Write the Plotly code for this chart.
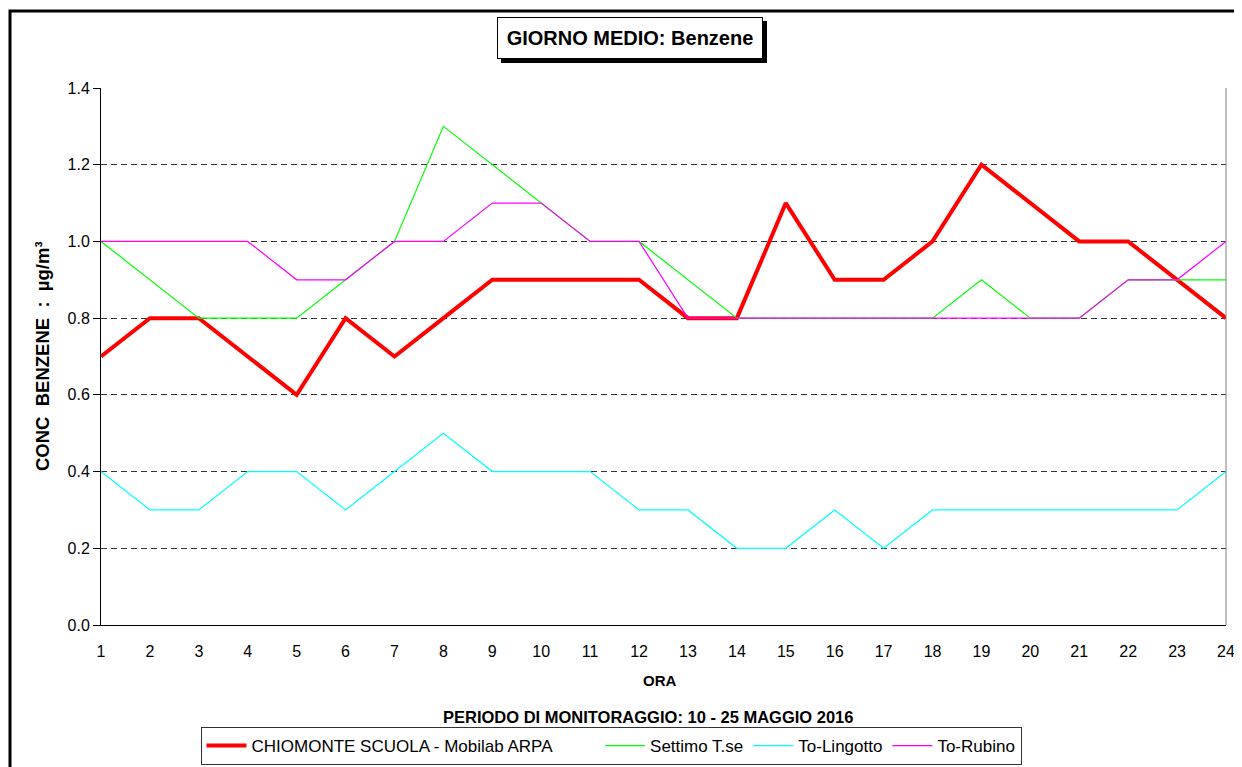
import plotly.graph_objects as go

hours = list(range(1, 25))
chiomonte = [0.7, 0.8, 0.8, 0.7, 0.6, 0.8, 0.7, 0.8, 0.9, 0.9, 0.9, 0.9,
             0.8, 0.8, 1.1, 0.9, 0.9, 1.0, 1.2, 1.1, 1.0, 1.0, 0.9, 0.8]
settimo = [1.0, 0.9, 0.8, 0.8, 0.8, 0.9, 1.0, 1.3, 1.2, 1.1, 1.0, 1.0,
           0.9, 0.8, 0.8, 0.8, 0.8, 0.8, 0.9, 0.8, 0.8, 0.9, 0.9, 0.9]
lingotto = [0.4, 0.3, 0.3, 0.4, 0.4, 0.3, 0.4, 0.5, 0.4, 0.4, 0.4, 0.3,
            0.3, 0.2, 0.2, 0.3, 0.2, 0.3, 0.3, 0.3, 0.3, 0.3, 0.3, 0.4]
rubino = [1.0, 1.0, 1.0, 1.0, 0.9, 0.9, 1.0, 1.0, 1.1, 1.1, 1.0, 1.0,
          0.8, 0.8, 0.8, 0.8, 0.8, 0.8, 0.8, 0.8, 0.8, 0.9, 0.9, 1.0]
series_names = ["CHIOMONTE SCUOLA - Mobilab ARPA", "Settimo T.se", "To-Lingotto", "To-Rubino"]
y_ticks = [0.0, 0.2, 0.4, 0.6, 0.8, 1.0, 1.2, 1.4]

# page body has an 8px margin: work in screen pixels and convert
OFF = 8
W, H = 1242 - OFF, 767 - OFF
PLOT_L, PLOT_R, PLOT_T, PLOT_B = 101, 1226, 88, 625   # screen px
L = PLOT_L - OFF
T = PLOT_T - OFF
R = W - (PLOT_R - OFF)
B = H - (PLOT_B - OFF)
PW, PH = PLOT_R - PLOT_L, PLOT_B - PLOT_T


def px(x):
    return (x - PLOT_L) / PW


def py(y):
    return (PLOT_B - y) / PH


FONT = "Liberation Sans, Arial, sans-serif"
NB = "\u00a0"
pads = [9, 0, 0, 0]

fig = go.Figure()
styles = [("#FF0000", 4), ("#00FF00", 1.2), ("#00FFFF", 1.2), ("#FF00FF", 1.2)]
for name, ys, (col, lw), pad in zip(series_names, [chiomonte, settimo, lingotto, rubino],
                                    styles, pads):
    fig.add_trace(go.Scatter(x=hours, y=ys, mode="lines", name=name + NB * pad,
                             line=dict(color=col, width=lw)))

fig.update_layout(
    width=W, height=H,
    margin=dict(l=L, r=R, t=T, b=B, autoexpand=False),
    paper_bgcolor="white", plot_bgcolor="white",
    font=dict(family=FONT, size=16, color="black"),
    showlegend=True,
    legend=dict(orientation="h", x=px(611), y=py(765), xanchor="center", yanchor="bottom",
                bordercolor="#333", borderwidth=1, bgcolor="white",
                font=dict(family=FONT, size=17), itemwidth=40,
                tracegroupgap=0),
    xaxis=dict(range=[1, 24], tickvals=hours, ticktext=[str(h) for h in hours],
               showgrid=False, zeroline=False, showline=True, linecolor="black",
               linewidth=1, ticks="", ticklabelstandoff=12, automargin=False,
               tickfont=dict(family=FONT, size=16)),
    yaxis=dict(range=[0, 1.4], tickvals=y_ticks, ticktext=[f"{v:.1f}" for v in y_ticks],
               showgrid=True, gridcolor="#333", gridwidth=1, griddash="6px,4px",
               zeroline=False, showline=True, linecolor="black", linewidth=1,
               ticks="outside", ticklen=7, tickcolor="black", automargin=False,
               tickfont=dict(family=FONT, size=16)),
)

# right border of plot area (gray)
fig.add_shape(type="line", xref="paper", yref="paper", x0=1, x1=1, y0=0, y1=1,
              line=dict(color="#808080", width=1))
# outer chart frame
fig.add_shape(type="rect", xref="paper", yref="paper",
              x0=px(10), x1=px(1300), y0=py(820), y1=py(11),
              line=dict(color="black", width=3))
# title shadow
fig.add_shape(type="rect", xref="paper", yref="paper",
              x0=px(501), x1=px(767), y0=py(63), y1=py(21),
              fillcolor="black", line=dict(color="black", width=0))

fig.add_annotation(text="<b>GIORNO MEDIO: Benzene</b>", xref="paper", yref="paper",
                   x=px(630), y=py(38), xanchor="center", yanchor="middle",
                   showarrow=False, bgcolor="white", bordercolor="black", borderwidth=1,
                   borderpad=0, width=264, height=40,
                   font=dict(family=FONT, size=20, color="black"))
fig.add_annotation(text="<b>CONC  BENZENE  :  µg/m³</b>", xref="paper", yref="paper",
                   x=px(42), y=py(356), textangle=-90, showarrow=False,
                   xanchor="center", yanchor="middle",
                   font=dict(family=FONT, size=18.5, color="black"))
fig.add_annotation(text="<b>ORA</b>", xref="paper", yref="paper",
                   x=px(660), y=py(681), showarrow=False,
                   xanchor="center", yanchor="middle",
                   font=dict(family=FONT, size=15, color="black"))
fig.add_annotation(text="<b>PERIODO DI MONITORAGGIO: 10 - 25 MAGGIO 2016</b>",
                   xref="paper", yref="paper",
                   x=px(648), y=py(717), showarrow=False,
                   xanchor="center", yanchor="middle",
                   font=dict(family=FONT, size=16.5, color="black"))

fig.write_html("out.html")
